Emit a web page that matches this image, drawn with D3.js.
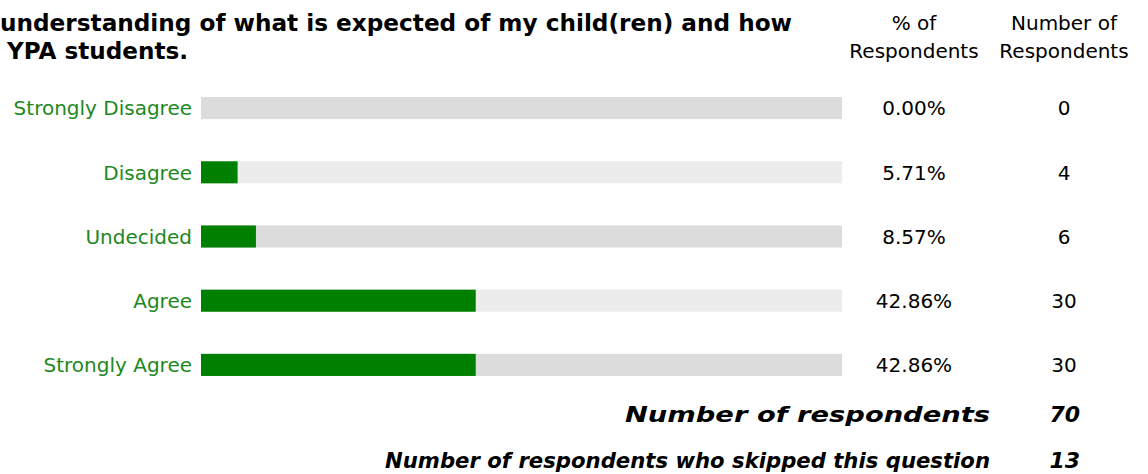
<!DOCTYPE html>
<html><head><meta charset="utf-8">
<script src="https://cdn.jsdelivr.net/npm/d3@7"></script>
<style>
body{margin:0;background:#fff;}
svg{display:block;font-family:Tahoma,"DejaVu Sans",sans-serif;}
</style></head>
<body><svg id="c" width="1148" height="474"></svg>
<script>
const titleLines = ["understanding of what is expected of my child(ren) and how", "YPA students."];
const categories = ["Strongly Disagree","Disagree","Undecided","Agree","Strongly Agree"];
const percents = [0.00, 5.71, 8.57, 42.86, 42.86];
const counts = [0, 4, 6, 30, 30];
const headerPct = ["% of","Respondents"];
const headerNum = ["Number of","Respondents"];
const footerLabels = ["Number of respondents","Number of respondents who skipped this question"];
const footerValues = [70, 13];

const svg = d3.select("#c");
const x = d3.scaleLinear().domain([0,100]).range([201,842]);
const y = d3.scaleBand().domain(categories).range([76,397]).paddingInner(0.656).paddingOuter(0.328);

// title
const titleX = [0, 7], titleW = [792, 181];
svg.append("g").attr("font-weight","bold").attr("font-size",23).attr("fill","#000")
  .selectAll("text").data(titleLines).join("text")
  .attr("x",(d,i)=>titleX[i]).attr("y",(d,i)=>31+i*28)
  .attr("textLength",(d,i)=>titleW[i]).attr("lengthAdjust","spacingAndGlyphs").text(d=>d);

// headers
const hg = svg.append("g").attr("font-size",20).attr("fill","#000").attr("text-anchor","middle");
hg.append("text").selectAll("tspan").data(headerPct).join("tspan").attr("x",914).attr("y",(d,i)=>30+i*28).text(d=>d);
hg.append("text").selectAll("tspan").data(headerNum).join("tspan").attr("x",1064).attr("y",(d,i)=>30+i*28).text(d=>d);

const rows = svg.append("g").selectAll("g").data(categories).join("g");
rows.append("rect").attr("x",x(0)).attr("width",x(100)-x(0))
  .attr("y",d=>y(d)).attr("height",y.bandwidth())
  .attr("fill",(d,i)=>i%2===0?"#dcdcdc":"#ececec");
rows.append("rect").attr("x",x(0)).attr("width",(d,i)=>x(percents[i])-x(0))
  .attr("y",d=>y(d)).attr("height",y.bandwidth()).attr("fill","#008000");
rows.append("text").attr("x",192).attr("y",d=>y(d)+y.bandwidth()/2).attr("dy","0.36em")
  .attr("text-anchor","end").attr("font-size",20).attr("fill","#1e881e").text(d=>d);
rows.append("text").attr("x",914).attr("y",d=>y(d)+y.bandwidth()/2).attr("dy","0.36em")
  .attr("text-anchor","middle").attr("font-size",20).attr("fill","#000").text((d,i)=>percents[i].toFixed(2)+"%");
rows.append("text").attr("x",1064).attr("y",d=>y(d)+y.bandwidth()/2).attr("dy","0.36em")
  .attr("text-anchor","middle").attr("font-size",20).attr("fill","#000").text((d,i)=>counts[i]);

const footW = [365, 605];
const fg = svg.append("g").attr("font-size",22).attr("font-weight","bold").attr("font-style","italic").attr("fill","#000");
fg.selectAll("text.l").data(footerLabels).join("text").attr("class","l").attr("x",990).attr("y",(d,i)=>422+i*46)
  .attr("text-anchor","end").attr("textLength",(d,i)=>footW[i]).attr("lengthAdjust","spacingAndGlyphs").text(d=>d);
fg.selectAll("text.v").data(footerValues).join("text").attr("class","v").attr("x",1080).attr("y",(d,i)=>422+i*46).attr("text-anchor","end").text(d=>d);
</script></body></html>
